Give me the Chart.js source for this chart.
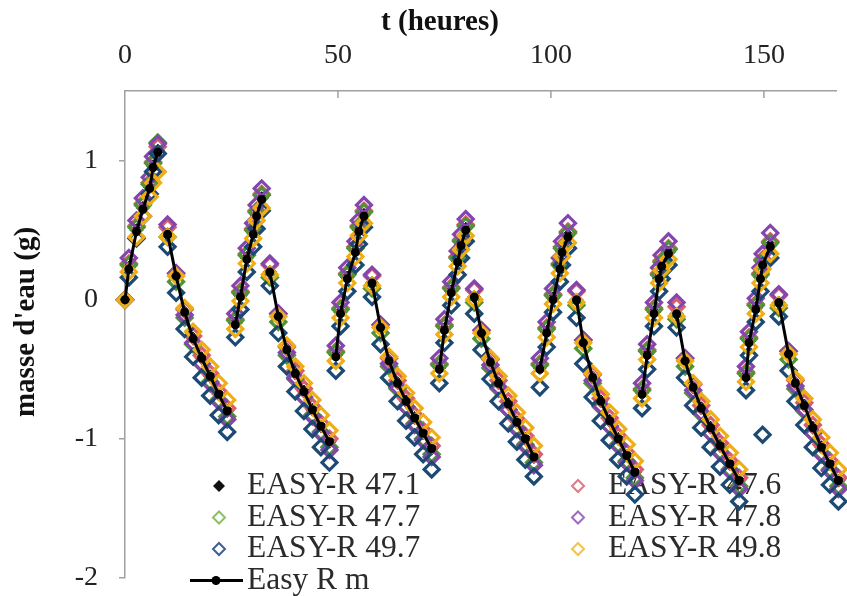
<!DOCTYPE html>
<html>
<head>
<meta charset="utf-8">
<script src="https://cdn.jsdelivr.net/npm/chart.js@4"></script>
<style>
    body { margin: 0; background: #fff; }
    #wrap { width: 847px; height: 596px; }
</style>
</head>
<body>
<div id="wrap"><canvas id="chart" width="847" height="596"></canvas></div>
<script>
    // Time of each measurement (hours), one row per rising / drying phase
    const hours = [
        0, 0.9, 2.7, 4.2, 5.8, 6.6, 7.7,
        10, 12, 14, 16, 18, 20, 22, 24,
        25.9, 27.1, 28.6, 30.1, 30.9, 32.1,
        34, 36, 38, 40, 42, 44, 46, 48,
        49.5, 50.6, 52.2, 54.1, 54.9, 56.1,
        58, 60, 62, 64, 66, 68, 70, 72,
        73.8, 75, 76.6, 78.1, 78.9, 80,
        82, 83.7, 85.8, 87.7, 90, 92, 94, 96,
        97.4, 99, 100.5, 102.1, 102.6, 104,
        106, 107.6, 109.8, 111.7, 113.8, 115.8, 117.8, 119.7,
        121.4, 122.6, 124.2, 125.4, 126, 127.6,
        129.5, 131.5, 133.4, 135.3, 137.5, 139.7, 142, 144.2,
        145.8, 146.5, 148.1, 149.2, 149.7, 151.5,
        153.5, 155.8, 157.4, 159.5, 161.5, 163.5, 165.5, 167.5
    ];

    // number of consecutive points joined by the mean curve
    const runLengths = [7, 8, 6, 8, 6, 8, 6, 8, 6, 8, 6, 8, 6, 8];

    const r471 = [
        0, 0.23, 0.5, 0.66, 0.81, 0.96, 1.07,
        0.47, 0.17, -0.09, -0.28, -0.42, -0.55, -0.68, -0.8,
        -0.17, 0.03, 0.3, 0.48, 0.61, 0.73,
        0.2, -0.12, -0.36, -0.53, -0.66, -0.79, -0.91, -1.02,
        -0.4, -0.09, 0.16, 0.35, 0.5, 0.61,
        0.12, -0.2, -0.44, -0.6, -0.73, -0.85, -0.96, -1.07,
        -0.49, -0.21, 0.06, 0.28, 0.4, 0.51,
        0.02, -0.24, -0.45, -0.6, -0.75, -0.88, -1.0, -1.13,
        -0.49, -0.23, 0.01, 0.23, 0.35, 0.46,
        0.0, -0.31, -0.56, -0.73, -0.87, -1.0, -1.12, -1.24,
        -0.67, -0.39, -0.09, 0.16, 0.25, 0.34,
        -0.1, -0.44, -0.63, -0.78, -0.92, -1.05, -1.18, -1.3,
        -0.55, -0.3, -0.06, 0.16, 0.26, 0.39,
        -0.02, -0.39, -0.6, -0.76, -0.92, -1.06, -1.18, -1.3
    ];
    const r476 = [
        0, 0.26, 0.53, 0.69, 0.84, 0.99, 1.1,
        0.52, 0.19, -0.07, -0.26, -0.4, -0.53, -0.66, -0.78,
        -0.14, 0.06, 0.33, 0.51, 0.64, 0.76,
        0.25, -0.1, -0.34, -0.51, -0.64, -0.77, -0.89, -1.0,
        -0.37, -0.06, 0.19, 0.38, 0.53, 0.64,
        0.17, -0.18, -0.42, -0.58, -0.71, -0.83, -0.94, -1.05,
        -0.46, -0.18, 0.09, 0.31, 0.43, 0.54,
        0.07, -0.22, -0.43, -0.58, -0.73, -0.86, -0.98, -1.11,
        -0.46, -0.2, 0.04, 0.26, 0.38, 0.49,
        0.06, -0.29, -0.54, -0.71, -0.85, -0.98, -1.1, -1.22,
        -0.64, -0.36, -0.06, 0.19, 0.28, 0.37,
        -0.05, -0.42, -0.61, -0.76, -0.9, -1.03, -1.16, -1.28,
        -0.52, -0.27, -0.03, 0.19, 0.29, 0.42,
        0.03, -0.37, -0.58, -0.74, -0.9, -1.04, -1.16, -1.28
    ];
    const r477 = [
        0, 0.25, 0.52, 0.68, 0.83, 0.98, 1.13,
        0.45, 0.13, -0.13, -0.32, -0.46, -0.59, -0.72, -0.84,
        -0.15, 0.05, 0.32, 0.5, 0.63, 0.75,
        0.16, -0.16, -0.4, -0.57, -0.7, -0.83, -0.95, -1.06,
        -0.38, -0.07, 0.18, 0.37, 0.52, 0.63,
        0.08, -0.24, -0.48, -0.64, -0.77, -0.89, -1.0, -1.11,
        -0.47, -0.19, 0.08, 0.3, 0.42, 0.53,
        -0.02, -0.28, -0.49, -0.64, -0.79, -0.92, -1.04, -1.17,
        -0.47, -0.21, 0.03, 0.25, 0.37, 0.48,
        -0.04, -0.35, -0.6, -0.77, -0.91, -1.04, -1.16, -1.28,
        -0.65, -0.37, -0.07, 0.18, 0.27, 0.36,
        -0.14, -0.48, -0.67, -0.82, -0.96, -1.09, -1.22, -1.34,
        -0.53, -0.28, -0.04, 0.18, 0.28, 0.41,
        -0.06, -0.43, -0.64, -0.8, -0.96, -1.1, -1.22, -1.34
    ];
    const r478 = [
        0, 0.3, 0.57, 0.73, 0.88, 1.03, 1.12,
        0.54, 0.19, -0.11, -0.31, -0.46, -0.6, -0.73, -0.86,
        -0.1, 0.1, 0.37, 0.55, 0.68, 0.8,
        0.26, -0.1, -0.38, -0.56, -0.7, -0.84, -0.96, -1.08,
        -0.33, -0.02, 0.23, 0.42, 0.57, 0.68,
        0.18, -0.18, -0.46, -0.63, -0.77, -0.9, -1.01, -1.13,
        -0.42, -0.14, 0.13, 0.35, 0.47, 0.58,
        0.08, -0.22, -0.47, -0.63, -0.79, -0.93, -1.05, -1.19,
        -0.42, -0.16, 0.08, 0.3, 0.42, 0.55,
        0.07, -0.29, -0.58, -0.76, -0.91, -1.05, -1.17, -1.3,
        -0.6, -0.32, -0.02, 0.23, 0.32, 0.42,
        -0.02, -0.42, -0.65, -0.81, -0.96, -1.1, -1.23, -1.36,
        -0.48, -0.23, 0.01, 0.23, 0.33, 0.48,
        0.04, -0.37, -0.62, -0.79, -0.96, -1.11, -1.23, -1.36
    ];
    const r497 = [
        0, 0.16, 0.44, 0.6, 0.76, 0.92, 1.05,
        0.38, 0.05, -0.21, -0.41, -0.56, -0.69, -0.83, -0.95,
        -0.27, -0.07, 0.2, 0.38, 0.51, 0.64,
        0.1, -0.24, -0.48, -0.66, -0.8, -0.93, -1.06, -1.17,
        -0.51, -0.19, 0.06, 0.25, 0.4, 0.52,
        0.02, -0.32, -0.56, -0.73, -0.87, -0.99, -1.11, -1.22,
        -0.6, -0.31, -0.04, 0.18, 0.3, 0.42,
        -0.1, -0.36, -0.57, -0.73, -0.89, -1.02, -1.15, -1.27,
        -0.63, -0.34, -0.09, 0.13, 0.25, 0.37,
        -0.13, -0.46, -0.7, -0.87, -1.01, -1.15, -1.27, -1.4,
        -0.78, -0.5, -0.19, 0.06, 0.15, 0.25,
        -0.2, -0.56, -0.76, -0.92, -1.06, -1.2, -1.33, -1.45,
        -0.65, -0.4, -0.16, 0.06, -0.97, 0.3,
        -0.12, -0.51, -0.73, -0.9, -1.06, -1.21, -1.33, -1.45
    ];
    const r498 = [
        0, 0.2, 0.45, 0.6, 0.74, 0.84, 0.92,
        0.45, 0.17, -0.06, -0.23, -0.36, -0.48, -0.6, -0.72,
        -0.21, -0.01, 0.26, 0.44, 0.57, 0.66,
        0.18, -0.12, -0.33, -0.48, -0.6, -0.72, -0.83, -0.94,
        -0.44, -0.13, 0.12, 0.31, 0.46, 0.55,
        0.1, -0.2, -0.41, -0.55, -0.67, -0.78, -0.88, -0.99,
        -0.53, -0.25, 0.02, 0.24, 0.36, 0.46,
        0.0, -0.24, -0.42, -0.55, -0.69, -0.81, -0.92, -1.05,
        -0.53, -0.27, -0.03, 0.19, 0.31, 0.41,
        -0.02, -0.31, -0.53, -0.68, -0.81, -0.93, -1.04, -1.16,
        -0.71, -0.43, -0.13, 0.12, 0.21, 0.29,
        -0.12, -0.44, -0.6, -0.73, -0.86, -0.98, -1.1, -1.22,
        -0.59, -0.34, -0.1, 0.12, 0.22, 0.33,
        -0.04, -0.39, -0.57, -0.71, -0.86, -0.99, -1.1, -1.22
    ];
    const meanR = [
        0, 0.22, 0.49, 0.65, 0.8, 0.95, 1.06,
        0.47, 0.17, -0.09, -0.28, -0.42, -0.55, -0.68, -0.8,
        -0.18, 0.02, 0.29, 0.47, 0.6, 0.72,
        0.2, -0.12, -0.36, -0.53, -0.66, -0.79, -0.91, -1.02,
        -0.41, -0.1, 0.15, 0.34, 0.49, 0.6,
        0.12, -0.2, -0.44, -0.6, -0.73, -0.85, -0.96, -1.07,
        -0.5, -0.22, 0.05, 0.27, 0.39, 0.5,
        0.02, -0.24, -0.45, -0.6, -0.75, -0.88, -1.0, -1.13,
        -0.5, -0.24, 0.0, 0.22, 0.34, 0.45,
        0.0, -0.31, -0.56, -0.73, -0.87, -1.0, -1.12, -1.24,
        -0.68, -0.4, -0.1, 0.15, 0.24, 0.33,
        -0.1, -0.44, -0.63, -0.78, -0.92, -1.05, -1.18, -1.3,
        -0.56, -0.31, -0.07, 0.15, 0.25, 0.38,
        -0.02, -0.39, -0.6, -0.76, -0.92, -1.06, -1.18, -1.3
    ];

    const seriesLabels = ['EASY-R 47.1', 'EASY-R 47.6', 'EASY-R 47.7', 'EASY-R 47.8', 'EASY-R 49.7', 'EASY-R 49.8', 'Easy R m'];
    const seriesValues = [r471, r476, r477, r478, r497, r498, meanR];
    const seriesColors = ['#111111', '#d95f6c', '#4f9436', '#8446ad', '#1d4a73', '#efae16', '#000000'];
    const legendColors = ['#111111', '#e07a84', '#8cc063', '#9b6bbd', '#3f5f8f', '#f2c44a', '#000000'];
    const xTicks = [50, 100, 150];

    // indices where the mean curve starts a new run (no segment drawn into them)
    const runStarts = new Set();
    let idx = 0;
    runLengths.forEach(n => { runStarts.add(idx); idx += n; });

    const serif = '"Liberation Serif", "Times New Roman", serif';

    const datasets = seriesValues.map((vals, i) => {
        const pts = hours.map((t, j) => ({ x: t, y: vals[j] }));
        if (i === 6) {
            return {
                label: seriesLabels[i],
                data: pts,
                showLine: true,
                clip: false,
                borderColor: '#000',
                backgroundColor: '#000',
                borderWidth: 3,
                pointRadius: 3,
                pointStyle: 'circle',
                order: 0,
                segment: {
                    borderColor: c => runStarts.has(c.p1DataIndex) ? 'rgba(0,0,0,0)' : '#000'
                }
            };
        }
        return {
            label: seriesLabels[i],
            data: pts,
            showLine: false,
            clip: false,
            pointStyle: 'rectRot',
            pointRadius: i === 0 ? 6.5 : 7.5,
            borderColor: seriesColors[i],
            backgroundColor: i === 0 ? seriesColors[i] : 'rgba(255,255,255,0)',
            borderWidth: i === 0 ? 1 : 3.2,
            order: 6 - i
        };
    });

    const decorations = {
        id: 'decorations',
        beforeDatasetsDraw(chart) {
            const ctx = chart.ctx;
            const area = chart.chartArea;
            const xs = chart.scales.x;
            ctx.save();

            // tick marks pointing inside on the top axis
            ctx.strokeStyle = '#a0a0a0';
            ctx.lineWidth = 1.5;
            xTicks.forEach(v => {
                const px = xs.getPixelForValue(v);
                ctx.beginPath();
                ctx.moveTo(px, area.top);
                ctx.lineTo(px, area.top + 7);
                ctx.stroke();
            });

            // two-column legend inside the plot
            const cols = [{ mark: 219, text: 247 }, { mark: 578, text: 608 }];
            ctx.font = '31.5px ' + serif;
            ctx.textBaseline = 'middle';
            ctx.textAlign = 'left';
            seriesLabels.forEach((lab, i) => {
                const col = cols[i % 2];
                const y = 486 + Math.floor(i / 2) * 31.5;
                if (i === 6) {
                    ctx.strokeStyle = '#000';
                    ctx.lineWidth = 3;
                    ctx.beginPath();
                    ctx.moveTo(190, y);
                    ctx.lineTo(243, y);
                    ctx.stroke();
                    ctx.fillStyle = '#000';
                    ctx.beginPath();
                    ctx.arc(216, y, 4.5, 0, Math.PI * 2);
                    ctx.fill();
                } else {
                    const r = 6;
                    ctx.beginPath();
                    ctx.moveTo(col.mark, y - r);
                    ctx.lineTo(col.mark + r, y);
                    ctx.lineTo(col.mark, y + r);
                    ctx.lineTo(col.mark - r, y);
                    ctx.closePath();
                    if (i === 0) {
                        ctx.fillStyle = legendColors[i];
                        ctx.fill();
                    } else {
                        ctx.strokeStyle = legendColors[i];
                        ctx.lineWidth = 2;
                        ctx.stroke();
                    }
                }
                ctx.fillStyle = '#2b2b2b';
                ctx.fillText(lab, col.text, y);
            });
            ctx.restore();
        },
        afterDraw(chart) {
            const ctx = chart.ctx;
            ctx.save();
            ctx.fillStyle = '#111';
            ctx.font = 'bold 29px ' + serif;
            ctx.textAlign = 'center';
            ctx.textBaseline = 'middle';
            ctx.fillText('t (heures)', 440, 23);
            ctx.translate(27, 322);
            ctx.rotate(-Math.PI / 2);
            ctx.fillText("masse d'eau (g)", 0, 0);
            ctx.restore();
        }
    };

    new Chart(document.getElementById('chart'), {
        type: 'scatter',
        data: { datasets: datasets },
        options: {
            responsive: false,
            animation: false,
            devicePixelRatio: 1,
            layout: { padding: { left: 0, right: 0, top: 0, bottom: 18 } },
            plugins: {
                legend: { display: false },
                tooltip: { enabled: false }
            },
            scales: {
                x: {
                    type: 'linear',
                    position: 'top',
                    min: 0,
                    max: 167,
                    afterFit: s => { s.height = 91; s.paddingLeft = 0; s.paddingRight = 0; },
                    grid: { display: false, drawTicks: false },
                    border: { display: true, color: '#a0a0a0', width: 1.5 },
                    ticks: {
                        stepSize: 50,
                        includeBounds: false,
                        padding: 19,
                        color: '#222',
                        font: { family: serif, size: 28 }
                    }
                },
                y: {
                    min: -2,
                    max: 1.5,
                    afterFit: s => { s.width = 125; s.paddingTop = 0; s.paddingBottom = 0; },
                    grid: { drawOnChartArea: false, drawTicks: true, tickLength: 6, color: '#a0a0a0', lineWidth: 1.5 },
                    border: { display: true, color: '#a0a0a0', width: 1.5 },
                    ticks: {
                        stepSize: 1,
                        includeBounds: false,
                        padding: 21,
                        color: '#222',
                        font: { family: serif, size: 28 }
                    }
                }
            }
        },
        plugins: [decorations]
    });
</script>
</body>
</html>
